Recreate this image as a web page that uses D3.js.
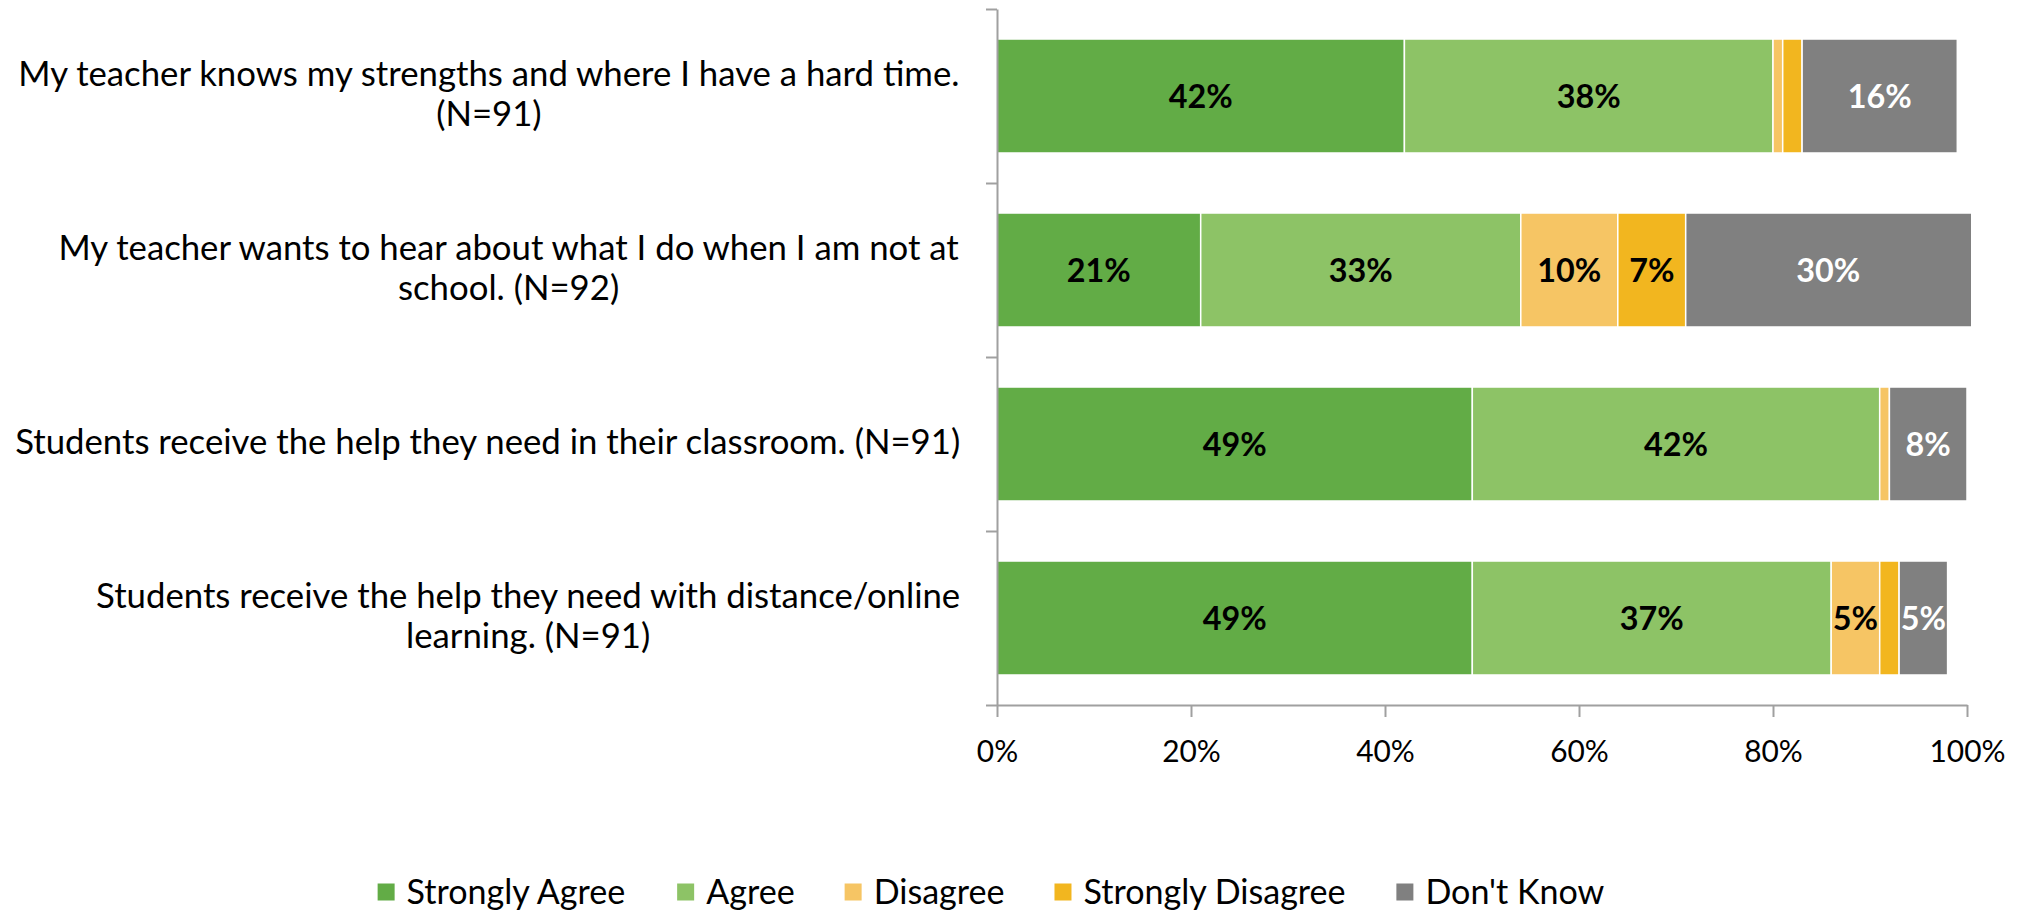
<!DOCTYPE html>
<html>
<head>
<meta charset="utf-8">
<script src="https://cdn.jsdelivr.net/npm/d3@7"></script>
<style>
  html, body { margin: 0; padding: 0; background: #fff; }
  svg { display: block; }
</style>
</head>
<body>
<svg id="chart" width="2028" height="911"></svg>
<script>
// ---------- DATA ----------
const categories = [
  "My teacher knows my strengths and where I have a hard time.\n(N=91)",
  "My teacher wants to hear about what I do when I am not at\nschool. (N=92)",
  "Students receive the help they need in their classroom. (N=91)",
  "Students receive the help they need with distance/online\nlearning. (N=91)"
];
const seriesNames = ["Strongly Agree", "Agree", "Disagree", "Strongly Disagree", "Don't Know"];
const stronglyAgree    = [42, 21, 49, 49];
const agree            = [38, 33, 42, 37];
const disagree         = [1, 10, 1, 5];
const stronglyDisagree = [2, 7, 0, 2];
const dontKnow         = [16, 30, 8, 5];
const xTicks = [0, 0.2, 0.4, 0.6, 0.8, 1.0];
const seriesColors = ["#62AC46", "#8DC366", "#F6C564", "#F2B61F", "#808080"];
const labelColors  = ["#000", "#000", "#000", "#000", "#fff"];

// ---------- BUILD ----------
const seriesValues = [stronglyAgree, agree, disagree, stronglyDisagree, dontKnow];
const rows = categories.map((c, i) => {
  const r = { cat: c };
  seriesNames.forEach((s, j) => r[s] = seriesValues[j][i] / 100);
  return r;
});
const stack = d3.stack().keys(seriesNames)(rows);

const FONT = "Lato, 'Open Sans', sans-serif";
const ctx = document.createElement("canvas").getContext("2d");
function fitSize(text, weight, target) {
  ctx.font = `${weight} 100px ${FONT}`;
  return 100 * target / ctx.measureText(text).width;
}
function textW(text, weight, size) {
  ctx.font = `${weight} ${size}px ${FONT}`;
  return ctx.measureText(text).width;
}
const catSize = fitSize("Students receive the help they need in their classroom. (N=91)", "normal", 947);
const tickSize = fitSize("100%", "normal", 76);
const barLabelSize = fitSize("42%", "bold", 64);
const legendSize = fitSize("Strongly Disagree", "normal", 263);

const svg = d3.select("#chart");
const x = d3.scaleLinear().domain([0, 1]).range([997, 1967]);
const y = d3.scaleBand().domain(categories).range([9, 705]).paddingInner(0.345).paddingOuter(0.1725);
const yEdges = d3.scaleLinear().domain([0, categories.length]).range([9, 705]);
const axisColor = "#A0A0A0";

// plot-area clip (bars beyond 100% are cut at the plot edge)
svg.append("defs").append("clipPath").attr("id", "plotClip")
  .append("rect").attr("x", x(0) - 2).attr("y", 0).attr("width", x(1) - x(0) + 6).attr("height", 911);

// bars
const layers = svg.append("g").attr("clip-path", "url(#plotClip)")
  .selectAll("g").data(stack).join("g")
  .attr("fill", (d, i) => seriesColors[i]);
layers.selectAll("rect").data(d => d).join("rect")
  .attr("x", d => x(d[0]))
  .attr("y", d => y(d.data.cat))
  .attr("width", d => Math.max(0, x(d[1]) - x(d[0])))
  .attr("height", y.bandwidth())
  .attr("stroke", "#fff")
  .attr("stroke-width", 1.5)
  .attr("display", d => d[1] - d[0] > 0 ? null : "none");

// bar labels
stack.forEach((layer, i) => {
  svg.append("g").selectAll("text").data(layer.filter(d => d[1] - d[0] >= 0.045)).join("text")
    .attr("x", d => x((d[0] + Math.min(d[1], 1.004)) / 2))
    .attr("y", d => y(d.data.cat) + y.bandwidth() / 2)
    .attr("dy", "0.36em")
    .attr("text-anchor", "middle")
    .attr("font-family", FONT)
    .attr("font-weight", "bold")
    .attr("font-size", barLabelSize)
    .attr("fill", labelColors[i])
    .text(d => d3.format(".0%")(d[1] - d[0]));
});

// x axis
const xAxis = svg.append("g").attr("transform", "translate(0,705)")
  .call(d3.axisBottom(x).tickValues(xTicks).tickFormat(d3.format(".0%")).tickSizeInner(12).tickSizeOuter(0).tickPadding(24));
xAxis.select(".domain").attr("stroke", axisColor).attr("stroke-width", 2);
xAxis.selectAll(".tick line").attr("stroke", axisColor).attr("stroke-width", 2);
xAxis.selectAll(".tick text").attr("font-family", FONT).attr("font-size", tickSize).attr("fill", "#000");

// y axis (ticks between categories)
const yAxis = svg.append("g").attr("transform", "translate(997,0)")
  .call(d3.axisLeft(yEdges).tickValues(d3.range(categories.length + 1)).tickFormat("").tickSizeInner(11).tickSizeOuter(0));
yAxis.select(".domain").attr("stroke", axisColor).attr("stroke-width", 2);
yAxis.selectAll(".tick line").attr("stroke", axisColor).attr("stroke-width", 2);

// category labels
const lineH = 40;
const rightEdge = 961;
categories.forEach(c => {
  const lines = c.split("\n");
  const maxW = d3.max(lines, l => textW(l, "normal", catSize));
  const cx = rightEdge - maxW / 2;
  const cy = y(c) + y.bandwidth() / 2 - 2;
  const t = svg.append("text")
    .attr("font-family", FONT).attr("font-size", catSize).attr("fill", "#000")
    .attr("text-anchor", "middle");
  lines.forEach((l, k) => {
    t.append("tspan").attr("x", cx)
      .attr("y", cy + (k - (lines.length - 1) / 2) * lineH)
      .attr("dy", "0.35em").text(l);
  });
});

// legend
const sq = 17, gapTxt = 12, gapItem = 50;
const itemW = seriesNames.map(s => sq + gapTxt + textW(s, "normal", legendSize));
const totalW = d3.sum(itemW) + gapItem * (seriesNames.length - 1);
let lx = 991 - totalW / 2;
const ly = 892;
const legend = svg.append("g");
seriesNames.forEach((s, i) => {
  legend.append("rect").attr("x", lx).attr("y", ly - sq / 2).attr("width", sq).attr("height", sq)
    .attr("fill", seriesColors[i]);
  legend.append("text").attr("x", lx + sq + gapTxt).attr("y", ly).attr("dy", "0.35em")
    .attr("font-family", FONT).attr("font-size", legendSize).attr("fill", "#000").text(s);
  lx += itemW[i] + gapItem;
});
</script>
</body>
</html>
